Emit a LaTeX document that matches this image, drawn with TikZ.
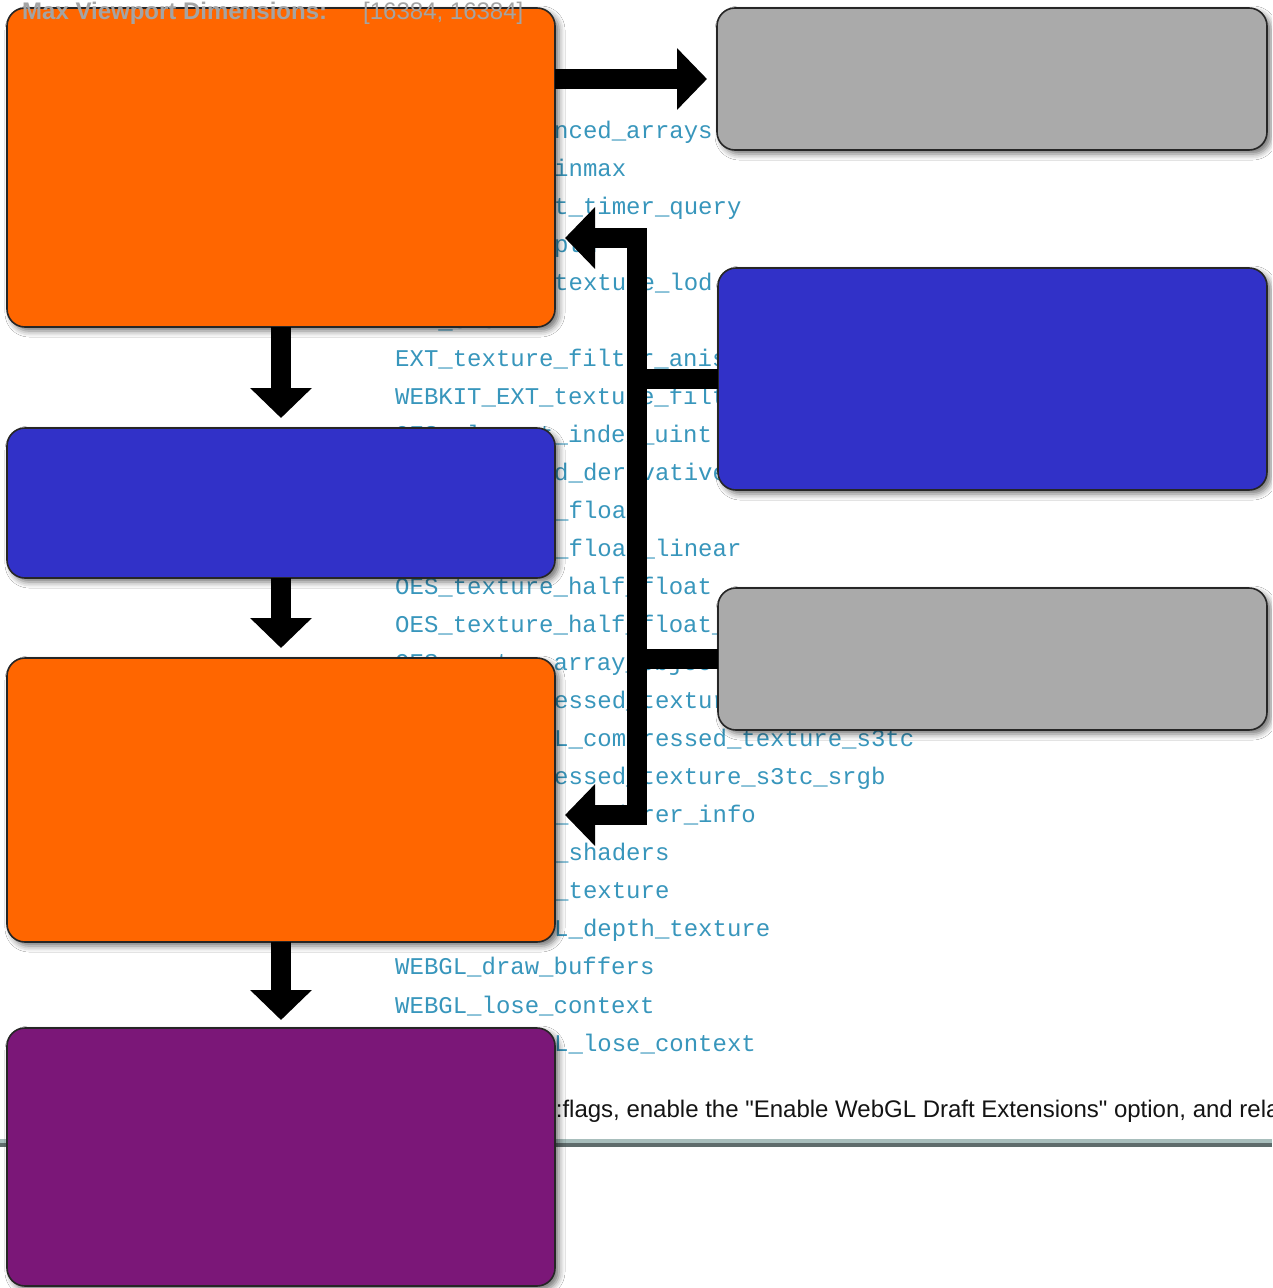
\documentclass[tikz,border=0pt]{standalone}
\usepackage{fontspec}
\setmainfont{Liberation Sans}
\newfontfamily\monofont{Liberation Mono}
\usetikzlibrary{arrows.meta,shadows.blur}
\definecolor{orng}{HTML}{FF6600}
\definecolor{gry}{HTML}{AAAAAA}
\definecolor{blu}{HTML}{3131C8}
\definecolor{purp}{HTML}{7B1778}
\definecolor{extcol}{HTML}{3896BC}
\definecolor{hdrgray}{HTML}{A4A4A4}
\definecolor{rulelight}{HTML}{A8BEBC}
\definecolor{ruledark}{HTML}{5F6C6C}
\tikzset{
  box/.style={rectangle, rounded corners=18pt, draw=black!85, line width=1.6pt,
    anchor=north west, inner sep=0pt, outer sep=0pt,
    blur shadow={shadow xshift=4pt, shadow yshift=-4pt, shadow blur radius=6pt, shadow opacity=55}},
  ext/.style={anchor=base west, inner sep=0pt, text=extcol, font=\monofont\fontsize{24}{24}\selectfont},
  conn/.style={draw=black, line width=20pt, line join=miter,
    -{Triangle[length=30pt,width=60pt]}, shorten >=10pt},
  hdr/.style={anchor=base west, inner sep=0pt, text=hdrgray, font=\fontsize{24}{24}\selectfont},
}
\begin{document}
\begin{tikzpicture}[x=1pt,y=-1pt]
\useasboundingbox (0,0) rectangle (1272,1288);
\clip (0,0) rectangle (1272,1288);
\fill[white] (0,0) rectangle (1272,1288);

% background page text (extension list)
\node[ext] (t01) at (554,138) {nced\_arrays};
\node[ext] (t02) at (554,176) {inmax};
\node[ext] (t03) at (554,214) {t\_timer\_query};
\node[ext] (t04) at (554,252) {pth};
\node[ext] (t05) at (554,290) {texture\_lod};
\node[ext] (t06) at (395,328) {EXT\_sRGB};
\node[ext] (t07) at (395,366) {EXT\_texture\_filter\_anisotropic};
\node[ext] (t08) at (395,404) {WEBKIT\_EXT\_texture\_filter\_anisotropic};
\node[ext] (t09) at (395,442) {OES\_element\_index\_uint};
\node[ext] (t10) at (554,480) {d\_derivatives};
\node[ext] (t11) at (554,518) {\_float};
\node[ext] (t12) at (554,556) {\_float\_linear};
\node[ext] (t13) at (395,594) {OES\_texture\_half\_float};
\node[ext] (t14) at (395,632) {OES\_texture\_half\_float\_linear};
\node[ext] (t15) at (395,670) {OES\_vertex\_array\_object};
\node[ext] (t16) at (554,708) {essed\_texture\_s3tc};
\node[ext] (t17) at (554,746) {L\_compressed\_texture\_s3tc};
\node[ext] (t18) at (554,784) {essed\_texture\_s3tc\_srgb};
\node[ext] (t19) at (554,822) {\_renderer\_info};
\node[ext] (t20) at (554,860) {\_shaders};
\node[ext] (t21) at (554,898) {\_texture};
\node[ext] (t22) at (554,936) {L\_depth\_texture};
\node[ext] (t23) at (395,974) {WEBGL\_draw\_buffers};
\node[ext] (t24) at (395,1013) {WEBGL\_lose\_context};
\node[ext] (t25) at (554,1051) {L\_lose\_context};
\node[anchor=base west, inner sep=0pt, text=black!92, font=\fontsize{24}{24}\selectfont] (note) at (549,1117)
  {t:flags, enable the \textquotedbl Enable WebGL Draft Extensions\textquotedbl{} option, and rela};

% horizontal rule
\fill[rulelight] (0,1139) rectangle (1272,1143);
\fill[ruledark] (0,1143) rectangle (1272,1147);

% boxes
\node[box, fill=orng, minimum width=548pt, minimum height=319pt] (box1) at (7,8) {};
\node[box, fill=gry,  minimum width=550pt, minimum height=142pt] (box2) at (717,8) {};
\node[box, fill=blu,  minimum width=549pt, minimum height=222pt] (box3) at (718,268) {};
\node[box, fill=blu,  minimum width=548pt, minimum height=150pt] (box4) at (7,428) {};
\node[box, fill=gry,  minimum width=549pt, minimum height=142pt] (box5) at (718,588) {};
\node[box, fill=orng, minimum width=548pt, minimum height=284pt] (box6) at (7,658) {};
\node[box, fill=purp, minimum width=548pt, minimum height=258pt] (box7) at (7,1028) {};

% connectors
\coordinate (busA) at (637,238);
\coordinate (busB) at (637,815);
\draw[conn] (box2.west -| box1.east) -- (box2.west);
\draw[conn] (box1.south) -- (box4.north);
\draw[conn] (box4.south) -- (box6.north);
\draw[conn, shorten >=8pt] (box6.south) -- (box7.north);
\draw[conn] (box3.west) -| (busA) -- (busA -| box1.east);
\draw[conn] (box5.west) -| (busB) -- (busB -| box6.east);
\draw[draw=black, line width=20pt] (box3.west -| busA) -- (box5.west -| busA);

% header text over the first box
\node[hdr, font=\bfseries\fontsize{24}{24}\selectfont] (hdr1) at (22,19) {Max Viewport Dimensions:};
\node[hdr] (hdr2) at (363,19) {[16384, 16384]};
\end{tikzpicture}
\end{document}
